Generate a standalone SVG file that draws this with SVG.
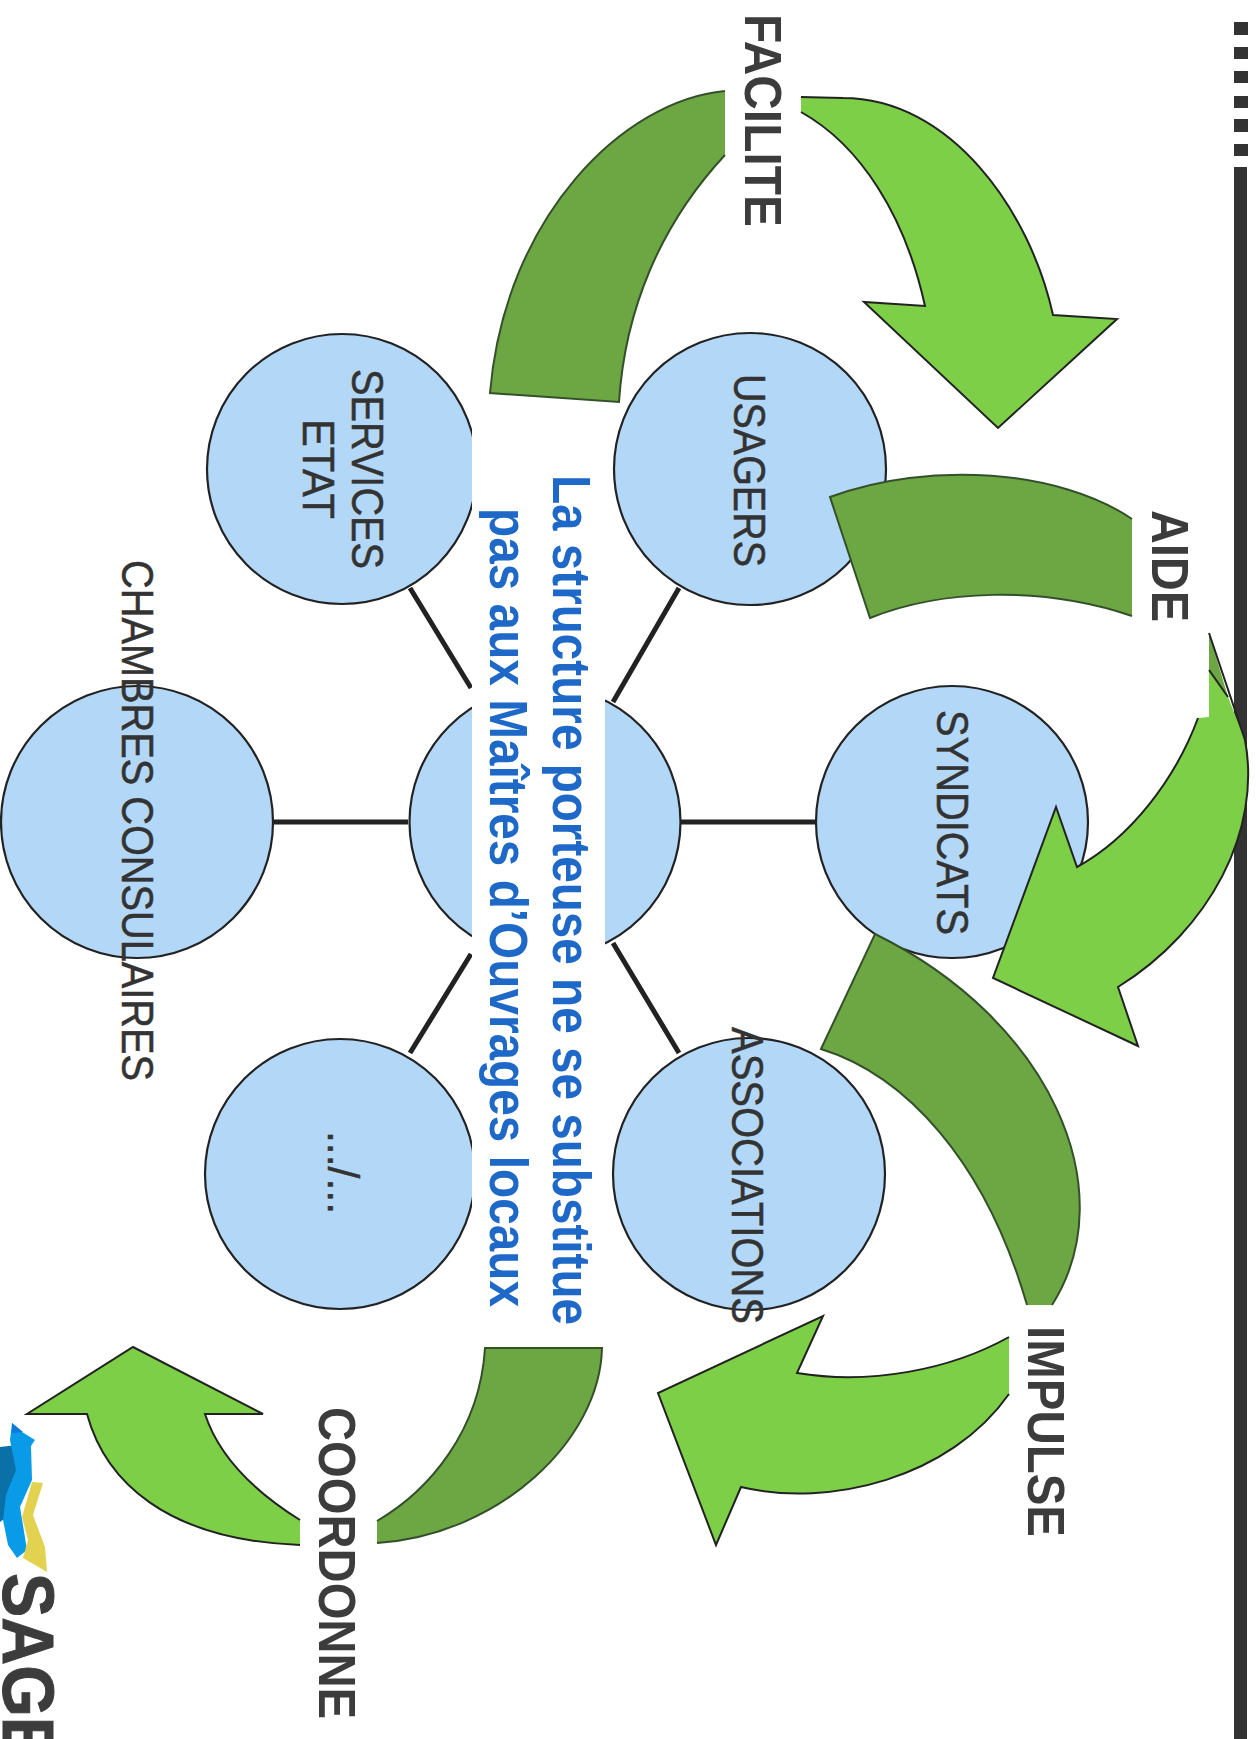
<svg xmlns="http://www.w3.org/2000/svg" width="1260" height="1739" viewBox="0 0 1260 1739">
<style>
.c{fill:#b3d8f7;stroke:#222;stroke-width:2.2}
.lbl{font-family:"Liberation Sans",Arial,sans-serif;fill:#333;stroke:#333;stroke-width:.5;font-size:44px}
.verb{font-family:"Liberation Sans",Arial,sans-serif;font-weight:bold;fill:#3c3c3c;font-size:51px}
.msg{font-family:"Liberation Sans",Arial,sans-serif;font-weight:bold;fill:#1e69c8;font-size:54px}
.lf{fill:#7ccf46}
.ls{fill:none;stroke:#222;stroke-width:2}
.df{fill:#6ca744}
.ds{fill:none;stroke:#34502a;stroke-width:2}
.ln{stroke:#222;stroke-width:5;fill:none}
.bar{fill:#333}
</style>
<rect width="1260" height="1739" fill="#fff"/>
<g id="margin">
<rect class="bar" x="1234" y="22" width="14" height="13"/>
<rect class="bar" x="1234" y="47" width="14" height="12"/>
<rect class="bar" x="1234" y="71" width="14" height="12"/>
<rect class="bar" x="1234" y="96" width="14" height="12"/>
<rect class="bar" x="1234" y="119" width="14" height="13"/>
<rect class="bar" x="1234" y="144" width="14" height="12"/>
<rect class="bar" x="1234" y="167" width="13" height="1572"/>
</g>
<g id="connectors">
<path class="ln" d="M680,822H816M272,822H408M613,702L679,588M613,943L679,1053M471,688L410,588M471,954L410,1053"/>
</g>
<g id="node-center"><circle class="c" cx="545" cy="822" r="135.5"/></g>
<g id="node-usagers"><circle class="c" cx="750" cy="469" r="136"/><text class="lbl" transform="translate(734,374) rotate(90)" textLength="193" lengthAdjust="spacingAndGlyphs">USAGERS</text></g>
<g id="node-syndicats"><circle class="c" cx="952" cy="822" r="136"/><text class="lbl" transform="translate(937,710) rotate(90)" textLength="225" lengthAdjust="spacingAndGlyphs">SYNDICATS</text></g>
<g id="node-associations"><circle class="c" cx="749" cy="1174" r="136"/></g>
<g id="node-services"><circle class="c" cx="342" cy="469" r="135"/><text class="lbl" transform="translate(352,369) rotate(90)" textLength="200" lengthAdjust="spacingAndGlyphs">SERVICES</text><text class="lbl" transform="translate(303,419) rotate(90)" textLength="100" lengthAdjust="spacingAndGlyphs">ETAT</text></g>
<g id="node-autres"><circle class="c" cx="340" cy="1174" r="135"/><text class="lbl" transform="translate(328,1131) rotate(90)" textLength="83" lengthAdjust="spacingAndGlyphs">.../...</text></g>
<g id="node-chambres"><circle class="c" cx="137" cy="822" r="136"/><text class="lbl" transform="translate(122,560) rotate(90)" textLength="521" lengthAdjust="spacingAndGlyphs">CHAMBRES CONSULAIRES</text></g>
<text id="label-associations" class="lbl" transform="translate(732,1027) rotate(90)" textLength="297" lengthAdjust="spacingAndGlyphs">ASSOCIATIONS</text>
<g id="message">
<rect x="472" y="402" width="133" height="946" fill="#fff"/>
<text class="msg" transform="translate(553,475) rotate(90)" textLength="850" lengthAdjust="spacingAndGlyphs">La structure porteuse ne se substitue</text>
<text class="msg" transform="translate(490,508) rotate(90)" textLength="799" lengthAdjust="spacingAndGlyphs">pas aux Maîtres d’Ouvrages locaux</text>
</g>
<g id="arrow-facilite-out"><path class="df" d="M725,155C660,225 625,310 619,402L490,393C505,215 625,100 725,91"/><path class="ds" d="M725,155C660,225 625,310 619,402L490,393C505,215 625,100 725,91"/></g>
<g id="arrow-facilite-in"><path class="lf" d="M801,112L801,97L843,98C950,98 1030,210 1053,315L1117,319L998,428L864,302L925,306C905,215 860,145 801,112Z"/><path class="ls" d="M801,97L843,98C950,98 1030,210 1053,315L1117,319L998,428L864,302L925,306C905,215 860,145 801,112"/></g>
<g id="arrow-aide-out"><path class="df" d="M1132,519C1060,470 930,460 830,497L870,618C940,590 1040,585 1132,616Z"/><path class="ds" d="M1132,519C1060,470 930,460 830,497L870,618C940,590 1040,585 1132,616"/></g>
<g id="arrow-aide-in"><path d="M1209,633L1228,697L1209,670Z" class="df"/><path class="lf" d="M1209,670L1228,697L1245,740C1262,830 1210,930 1118,987L1138,1046L993,978L1056,807L1077,867C1130,838 1175,780 1198,718L1209,717Z"/><path class="ls" d="M1209,633L1245,740C1262,830 1210,930 1118,987L1138,1046L993,978L1056,807L1077,867C1130,838 1175,780 1198,718"/><path class="ls" d="M1209,670L1228,697"/></g>
<g id="arrow-impulse-out"><path class="df" d="M1052,1305C1125,1190 1050,1020 875,934L821,1049C905,1075 985,1160 1027,1305Z"/><path class="ds" d="M1052,1305C1125,1190 1050,1020 875,934L821,1049C905,1075 985,1160 1027,1305"/></g>
<g id="arrow-impulse-in"><path class="lf" d="M1009,1337C950,1370 870,1385 797,1373L823,1316L658,1393L716,1545L741,1487C830,1508 950,1478 1009,1394Z"/><path class="ls" d="M1009,1337C950,1370 870,1385 797,1373L823,1316L658,1393L716,1545L741,1487C830,1508 950,1478 1009,1394"/></g>
<g id="arrow-coordonne-out"><path class="df" d="M377,1521C430,1490 480,1430 485,1348L602,1348C600,1440 500,1535 377,1543Z"/><path class="ds" d="M377,1521C430,1490 480,1430 485,1348L602,1348C600,1440 500,1535 377,1543"/></g>
<g id="arrow-coordonne-in"><path class="lf" d="M300,1520C260,1495 220,1460 205,1414L263,1414L133,1347L27,1414L87,1414C105,1480 165,1540 300,1545Z"/><path class="ls" d="M300,1520C260,1495 220,1460 205,1414L263,1414L133,1347L27,1414L87,1414C105,1480 165,1540 300,1545"/></g>
<g id="verbs">
<text class="verb" transform="translate(745,14) rotate(90)" textLength="213" lengthAdjust="spacingAndGlyphs">FACILITE</text>
<text class="verb" transform="translate(1152,510) rotate(90)" textLength="112" lengthAdjust="spacingAndGlyphs">AIDE</text>
<text class="verb" transform="translate(1028,1326) rotate(90)" textLength="211" lengthAdjust="spacingAndGlyphs">IMPULSE</text>
<text class="verb" transform="translate(319,1407) rotate(90)" textLength="312" lengthAdjust="spacingAndGlyphs">COORDONNE</text>
</g>
<g id="logo">
<path d="M0,1447L17,1445L18,1480L16,1510L0,1522Z" fill="#0b6fa8"/>
<path d="M12,1423L22,1432L35,1440L31,1446L32,1480L20,1507L27,1550L17,1558L8,1545L3,1520L6,1495L16,1470L10,1440Z" fill="#0a9be8"/>
<path d="M12,1423L23,1432L12,1433Z" fill="#0a78dc"/>
<path d="M32,1482L43,1483L33,1515L45,1547L47,1572L23,1558L28,1540L22,1517Z" fill="#e3d24f"/>
<text transform="translate(3,1573) rotate(90)" font-family="Liberation Sans, Arial, sans-serif" font-weight="bold" font-size="72" fill="#3c3c3c" stroke="#3c3c3c" stroke-width="1" textLength="188" lengthAdjust="spacingAndGlyphs">SAGE</text>
</g>
</svg>
